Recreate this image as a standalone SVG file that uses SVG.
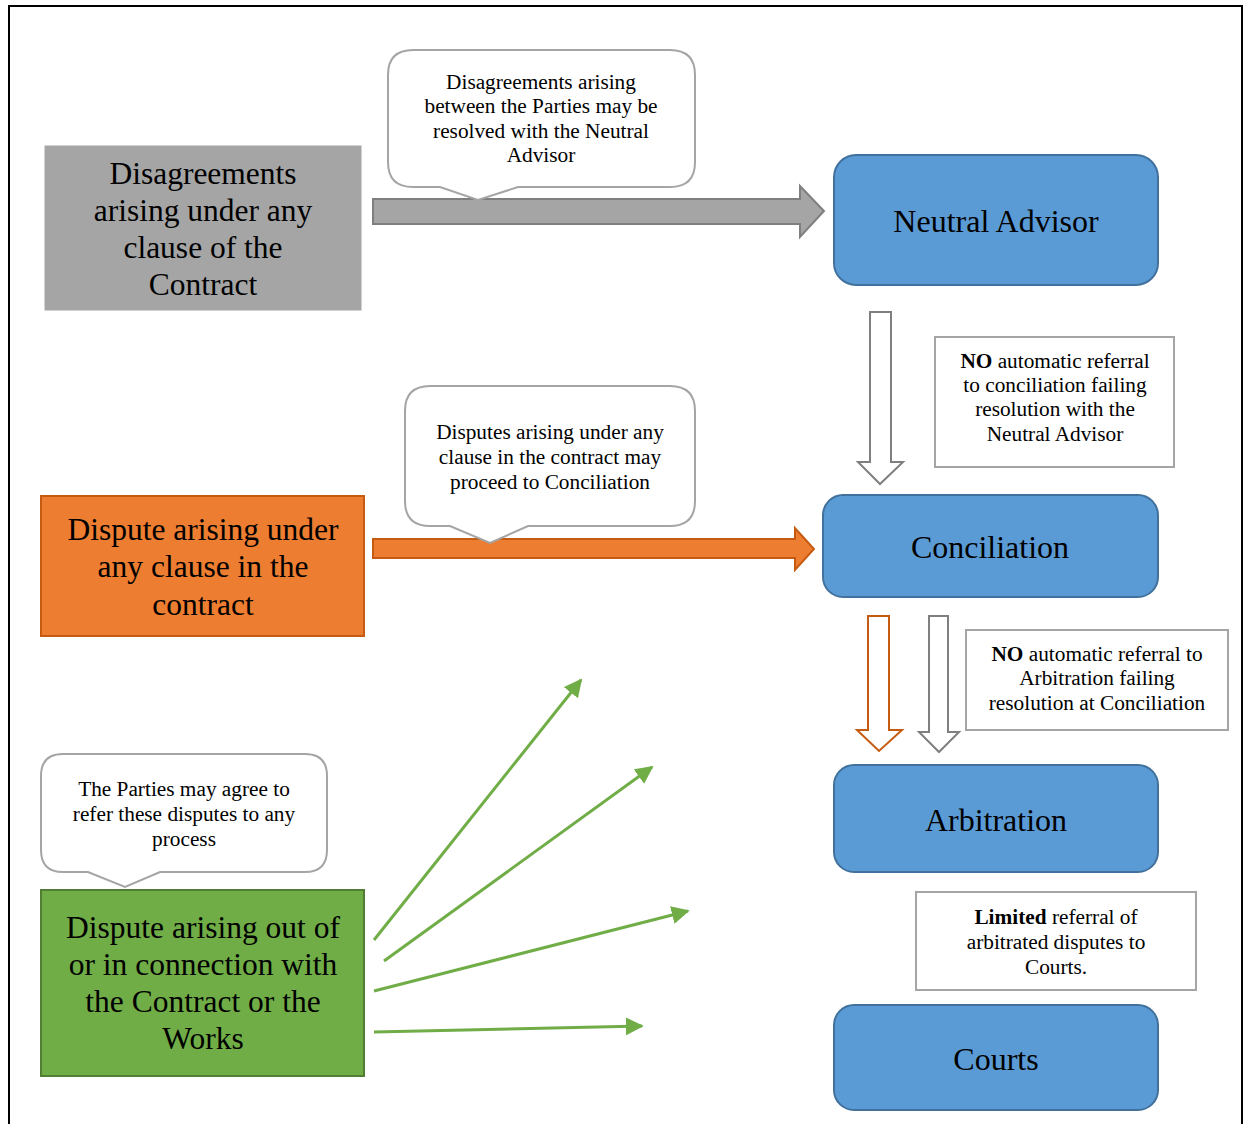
<svg xmlns="http://www.w3.org/2000/svg" width="1244" height="1124" viewBox="0 0 1244 1124" font-family="'Liberation Serif', 'DejaVu Serif', serif">
  <style>
    text { font-family: "Liberation Serif", "DejaVu Serif", serif; fill: #000; text-anchor: middle; }
    .big { font-size: 31.5px; }
    .mid { font-size: 32px; }
    .small { font-size: 21.3px; }
    .callout { fill: #fff; stroke: #a5a5a5; stroke-width: 2; }
    .note { fill: #fff; stroke: #a5a5a5; stroke-width: 2; }
    .stage { fill: #5b9bd5; stroke: #41719c; stroke-width: 2; }
    .green { stroke: #70ad47; stroke-width: 3; fill: none; }
  </style>
  <defs>
    <marker id="tri" viewBox="0 0 10 10" refX="9" refY="5" markerWidth="6" markerHeight="6" orient="auto" markerUnits="strokeWidth">
      <path d="M0,0 L10,5 L0,10 z" fill="#70ad47"/>
    </marker>
  </defs>

  <rect width="1244" height="1124" fill="#fff"/>
  <!-- page frame, open at the bottom -->
  <polyline points="9,1124 9,6 1242,6 1242,1124" fill="none" stroke="#000" stroke-width="2"/>

  <!-- source nodes -->
  <g id="src-disagreements">
    <rect x="45" y="146" width="316" height="164" fill="#a5a5a5" stroke="#a5a5a5"/>
    <text class="big" x="203" y="184">Disagreements</text>
    <text class="big" x="203" y="221">arising under any</text>
    <text class="big" x="203" y="258">clause of the</text>
    <text class="big" x="203" y="295">Contract</text>
  </g>
  <g id="src-dispute-clause">
    <rect x="41" y="496" width="323" height="140" fill="#ed7d31" stroke="#c55a11" stroke-width="2"/>
    <text class="big" x="203" y="540">Dispute arising under</text>
    <text class="big" x="203" y="577">any clause in the</text>
    <text class="big" x="203" y="615">contract</text>
  </g>
  <g id="src-dispute-works">
    <rect x="41" y="890" width="323" height="186" fill="#70ad47" stroke="#507e32" stroke-width="2"/>
    <text class="big" x="203" y="938">Dispute arising out of</text>
    <text class="big" x="203" y="975">or in connection with</text>
    <text class="big" x="203" y="1012">the Contract or the</text>
    <text class="big" x="203" y="1049">Works</text>
  </g>

  <!-- process stages -->
  <g id="neutral-advisor">
    <rect class="stage" x="834" y="155" width="324" height="130" rx="22"/>
    <text class="mid" x="996" y="232">Neutral Advisor</text>
  </g>
  <g id="conciliation">
    <rect class="stage" x="823" y="495" width="335" height="102" rx="20"/>
    <text class="mid" x="990" y="558">Conciliation</text>
  </g>
  <g id="arbitration">
    <rect class="stage" x="834" y="765" width="324" height="107" rx="20"/>
    <text class="mid" x="996" y="831">Arbitration</text>
  </g>
  <g id="courts">
    <rect class="stage" x="834" y="1005" width="324" height="105" rx="20"/>
    <text class="mid" x="996" y="1070">Courts</text>
  </g>

  <!-- connectors -->
  <g id="connectors">
    <polygon points="373,199 800,199 800,186 824,211 800,237 800,224 373,224" fill="#a5a5a5" stroke="#7f7f7f" stroke-width="2"/>
    <polygon points="373,539 795,539 795,528 814,549 795,570 795,558 373,558" fill="#ed7d31" stroke="#c55a11" stroke-width="2"/>
    <polygon points="870,312 891,312 891,462 903,462 880,484 858,462 870,462" fill="#fff" stroke="#7f7f7f" stroke-width="2"/>
    <polygon points="868,616 889,616 889,730 902,730 879,751 857,730 868,730" fill="#fff" stroke="#c55a11" stroke-width="2"/>
    <polygon points="929,616 948,616 948,732 959,732 939,752 919,732 929,732" fill="#fff" stroke="#7f7f7f" stroke-width="2"/>
    <line class="green" x1="374" y1="940" x2="581" y2="680" marker-end="url(#tri)"/>
    <line class="green" x1="384" y1="961" x2="652" y2="767" marker-end="url(#tri)"/>
    <line class="green" x1="374" y1="991" x2="688" y2="911" marker-end="url(#tri)"/>
    <line class="green" x1="374" y1="1032" x2="642" y2="1026" marker-end="url(#tri)"/>
  </g>

  <!-- callouts -->
  <g id="callout-neutral">
    <path class="callout" d="M413,50 H670 Q695,50 695,75 V162 Q695,187 670,187 H518 L478,200 L440,187 H413 Q388,187 388,162 V75 Q388,50 413,50 Z"/>
    <text class="small" x="541" y="89">Disagreements arising</text>
    <text class="small" x="541" y="113">between the Parties may be</text>
    <text class="small" x="541" y="138">resolved with the Neutral</text>
    <text class="small" x="541" y="162">Advisor</text>
  </g>
  <g id="callout-conciliation">
    <path class="callout" d="M430,386 H670 Q695,386 695,411 V501 Q695,526 670,526 H528 L490,543 L450,526 H430 Q405,526 405,501 V411 Q405,386 430,386 Z"/>
    <text class="small" x="550" y="439">Disputes arising under any</text>
    <text class="small" x="550" y="464">clause in the contract may</text>
    <text class="small" x="550" y="489">proceed to Conciliation</text>
  </g>
  <g id="callout-any-process">
    <path class="callout" d="M63,754 H305 Q327,754 327,776 V850 Q327,872 305,872 H160 L125,887 L88,872 H63 Q41,872 41,850 V776 Q41,754 63,754 Z"/>
    <text class="small" x="184" y="796">The Parties may agree to</text>
    <text class="small" x="184" y="821">refer these disputes to any</text>
    <text class="small" x="184" y="846">process</text>
  </g>

  <!-- notes -->
  <g id="note-conciliation">
    <rect class="note" x="935" y="337" width="239" height="130"/>
    <text class="small" x="1055" y="368"><tspan font-weight="bold">NO</tspan> automatic referral</text>
    <text class="small" x="1055" y="392">to conciliation failing</text>
    <text class="small" x="1055" y="416">resolution with the</text>
    <text class="small" x="1055" y="441">Neutral Advisor</text>
  </g>
  <g id="note-arbitration">
    <rect class="note" x="966" y="630" width="262" height="100"/>
    <text class="small" x="1097" y="661"><tspan font-weight="bold">NO</tspan> automatic referral to</text>
    <text class="small" x="1097" y="685">Arbitration failing</text>
    <text class="small" x="1097" y="710">resolution at Conciliation</text>
  </g>
  <g id="note-courts">
    <rect class="note" x="916" y="892" width="280" height="98"/>
    <text class="small" x="1056" y="924"><tspan font-weight="bold">Limited</tspan> referral of</text>
    <text class="small" x="1056" y="949">arbitrated disputes to</text>
    <text class="small" x="1056" y="974">Courts.</text>
  </g>
</svg>
